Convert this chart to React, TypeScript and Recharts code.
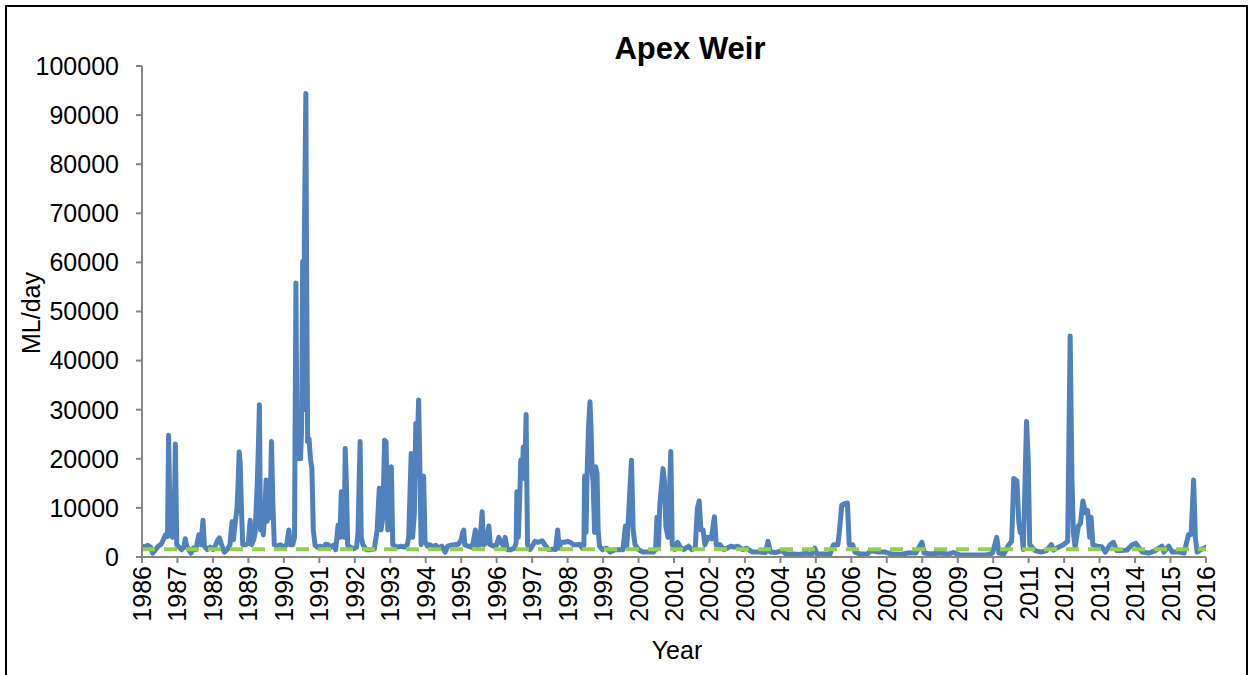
import React from "react";
import { LineChart, Line, XAxis, YAxis } from "recharts";

// daily flow at Apex Weir (decimal year, ML/day)
const flowYears = [
  1986.0, 1986.08, 1986.16, 1986.24, 1986.3, 1986.38, 1986.46, 1986.54, 1986.6, 1986.66,
  1986.72, 1986.75, 1986.78, 1986.82, 1986.86, 1986.91, 1986.94, 1986.98, 1987.05, 1987.12,
  1987.18, 1987.22, 1987.26, 1987.32, 1987.38, 1987.45, 1987.52, 1987.6, 1987.66, 1987.72,
  1987.76, 1987.84, 1987.92, 1988.0, 1988.08, 1988.14, 1988.18, 1988.24, 1988.32, 1988.4,
  1988.48, 1988.54, 1988.58, 1988.62, 1988.68, 1988.71, 1988.74, 1988.77, 1988.8, 1988.84,
  1988.92, 1989.0, 1989.05, 1989.09, 1989.15, 1989.19, 1989.25, 1989.28, 1989.31, 1989.34,
  1989.38, 1989.42, 1989.46, 1989.5, 1989.53, 1989.57, 1989.61, 1989.65, 1989.69, 1989.73,
  1989.8, 1989.9, 1990.0, 1990.08, 1990.14, 1990.18, 1990.25, 1990.3, 1990.34, 1990.37,
  1990.4, 1990.44, 1990.47, 1990.5, 1990.53, 1990.56, 1990.58, 1990.62, 1990.64, 1990.67,
  1990.71, 1990.75, 1990.79, 1990.83, 1990.88, 1990.95, 1991.03, 1991.1, 1991.18, 1991.25,
  1991.32, 1991.4, 1991.46, 1991.53, 1991.58, 1991.62, 1991.66, 1991.7, 1991.73, 1991.76,
  1991.8, 1991.88, 1991.96, 1992.05, 1992.09, 1992.15, 1992.18, 1992.23, 1992.32, 1992.45,
  1992.55, 1992.63, 1992.69, 1992.74, 1992.79, 1992.84, 1992.88, 1992.93, 1992.98, 1993.03,
  1993.07, 1993.18, 1993.3, 1993.4, 1993.48, 1993.52, 1993.59, 1993.63, 1993.68, 1993.72,
  1993.75, 1993.8, 1993.84, 1993.87, 1993.91, 1993.94, 1993.98, 1994.05, 1994.12, 1994.2,
  1994.28, 1994.36, 1994.45, 1994.55, 1994.62, 1994.72, 1994.82, 1994.92, 1995.0, 1995.04,
  1995.07, 1995.1, 1995.2, 1995.28, 1995.34, 1995.4, 1995.44, 1995.52, 1995.59, 1995.63,
  1995.7, 1995.78, 1995.82, 1995.92, 1996.0, 1996.06, 1996.12, 1996.2, 1996.24, 1996.3,
  1996.4, 1996.5, 1996.55, 1996.57, 1996.61, 1996.65, 1996.68, 1996.72, 1996.75, 1996.79,
  1996.83, 1996.87, 1996.94, 1997.0, 1997.08, 1997.16, 1997.24, 1997.28, 1997.36, 1997.46,
  1997.58, 1997.66, 1997.72, 1997.76, 1997.82, 1997.92, 1998.0, 1998.08, 1998.16, 1998.26,
  1998.34, 1998.42, 1998.46, 1998.48, 1998.52, 1998.55, 1998.59, 1998.63, 1998.66, 1998.69,
  1998.72, 1998.76, 1998.79, 1998.83, 1998.86, 1998.9, 1998.98, 1999.1, 1999.2, 1999.34,
  1999.45, 1999.56, 1999.63, 1999.67, 1999.72, 1999.8, 1999.85, 1999.9, 2000.0, 2000.12,
  2000.28, 2000.42, 2000.48, 2000.52, 2000.56, 2000.6, 2000.69, 2000.73, 2000.77, 2000.83,
  2000.91, 2000.95, 2001.02, 2001.1, 2001.18, 2001.27, 2001.41, 2001.5, 2001.6, 2001.66,
  2001.71, 2001.76, 2001.82, 2001.87, 2001.96, 2002.05, 2002.14, 2002.19, 2002.3, 2002.4,
  2002.5, 2002.6, 2002.7, 2002.8, 2002.94, 2003.05, 2003.2, 2003.4, 2003.58, 2003.65,
  2003.72, 2003.86, 2004.05, 2004.15, 2004.35, 2004.55, 2004.72, 2004.88, 2004.97, 2005.03,
  2005.2, 2005.4, 2005.5, 2005.62, 2005.66, 2005.73, 2005.82, 2005.89, 2005.94, 2006.04,
  2006.1, 2006.26, 2006.45, 2006.55, 2006.75, 2006.95, 2007.15, 2007.38, 2007.6, 2007.82,
  2007.99, 2008.05, 2008.25, 2008.5, 2008.72, 2008.88, 2009.08, 2009.3, 2009.55, 2009.8,
  2009.98, 2010.1, 2010.16, 2010.3, 2010.44, 2010.52, 2010.58, 2010.67, 2010.72, 2010.76,
  2010.81, 2010.85, 2010.94, 2010.99, 2011.03, 2011.18, 2011.35, 2011.5, 2011.64, 2011.7,
  2011.84, 2011.98, 2012.1, 2012.17, 2012.22, 2012.26, 2012.31, 2012.4, 2012.46, 2012.53,
  2012.6, 2012.66, 2012.72, 2012.76, 2012.81, 2012.92, 2013.06, 2013.16, 2013.3, 2013.39,
  2013.48, 2013.62, 2013.77, 2013.92, 2014.02, 2014.1, 2014.2, 2014.38, 2014.57, 2014.76,
  2014.81, 2014.95, 2015.05, 2015.24, 2015.38, 2015.51, 2015.58, 2015.65, 2015.7, 2015.75,
  2015.85, 2015.94, 2016.0,
];

const flowValues = [
  2200, 2000, 2400, 2000, 800, 1500, 2200, 2600, 3500, 4500,
  4200, 24800, 12000, 13300, 4000, 8000, 23000, 2500, 2000, 1500,
  2000, 3700, 2200, 1500, 800, 1800, 1500, 4500, 2500, 7500,
  2200, 1500, 2000, 1500, 2500, 3500, 3900, 2600, 1000, 1500,
  2500, 7200, 3500, 6500, 10000, 15000, 21400, 19000, 10600, 2500,
  2500, 2800, 7500, 2500, 3500, 5000, 15000, 22000, 31000, 5500,
  8000, 4500, 8500, 15700, 7300, 11000, 8000, 23500, 11000, 2500,
  2200, 2500, 2000, 2500, 5500, 2500, 2500, 4000, 55800, 20000,
  26000, 26500, 20000, 26000, 60200, 30000, 66300, 94400, 60000, 23500,
  24000, 20000, 18000, 5500, 2400, 2000, 2200, 1800, 2600, 2500,
  2000, 2400, 1500, 6500, 4000, 13300, 10600, 4000, 22100, 15500,
  2300, 2000, 1700, 2000, 5000, 23500, 4000, 2500, 1500, 1500,
  1600, 5500, 14000, 5500, 8000, 23800, 23500, 5500, 9000, 18400,
  2500, 2000, 2200, 2000, 2500, 4000, 21100, 4000, 9000, 27200,
  20000, 32000, 16000, 2500, 10000, 16500, 3200, 2200, 2500, 2000,
  2400, 1800, 2200, 1000, 2200, 2400, 2500, 2600, 3500, 5000,
  5500, 2500, 2200, 2000, 3000, 5500, 2200, 2500, 9200, 2500,
  2800, 6300, 2500, 2200, 2500, 4000, 3000, 2200, 4000, 1500,
  1500, 1800, 3000, 13300, 4000, 12000, 19700, 16000, 22400, 16000,
  29000, 2500, 1500, 2200, 3200, 3000, 3200, 3300, 2500, 1500,
  1600, 1500, 5500, 1800, 3000, 3000, 3200, 3000, 2500, 2500,
  2600, 1800, 2500, 16500, 5000, 17000, 26300, 31600, 26500, 17500,
  15000, 5000, 18400, 17000, 5500, 2200, 1500, 1800, 1000, 1500,
  1500, 1500, 6300, 2200, 8600, 19700, 5500, 2500, 1500, 1000,
  1000, 1000, 1500, 8100, 2000, 10600, 18000, 15500, 6300, 4000,
  21500, 2500, 1500, 3000, 2000, 1500, 2200, 1500, 1800, 9900,
  11400, 5500, 5500, 2500, 4000, 3700, 8200, 2500, 2500, 1500,
  1800, 2200, 2000, 2200, 1500, 1800, 1000, 1000, 900, 3200,
  1000, 900, 1300, 600, 600, 500, 800, 500, 1800, 600,
  600, 600, 2500, 2500, 5000, 10600, 10900, 11000, 2500, 2500,
  1000, 600, 600, 1300, 1000, 1000, 600, 500, 800, 800,
  3000, 800, 600, 800, 600, 900, 400, 400, 400, 400,
  800, 4000, 800, 600, 2500, 3200, 16000, 15500, 7300, 5000,
  4600, 1500, 27600, 19300, 2500, 1300, 1000, 1300, 2500, 1400,
  2000, 2500, 3200, 45000, 16000, 5000, 2000, 6300, 6800, 11400,
  9000, 9500, 4000, 8100, 2500, 2200, 2100, 1000, 2500, 3000,
  1300, 1300, 1400, 2500, 2800, 2000, 1000, 800, 1300, 2200,
  1000, 2200, 1000, 1000, 800, 4600, 4600, 15700, 4000, 1000,
  1500, 1800, 2000,
];

// green dashed reference flow
const thresholdYears = [1986, 2016];
const thresholdValues = [1600, 1600];

const yearTicks = [
  1986, 1987, 1988, 1989, 1990, 1991, 1992, 1993, 1994, 1995, 1996, 1997, 1998, 1999, 2000, 2001,
  2002, 2003, 2004, 2005, 2006, 2007, 2008, 2009, 2010, 2011, 2012, 2013, 2014, 2015, 2016,
];
const flowTicks = [0, 10000, 20000, 30000, 40000, 50000, 60000, 70000, 80000, 90000, 100000];

const FONT = "'Liberation Sans', Arial, sans-serif";
const AXIS_GREY = "#868686";

const flowData = flowYears.map((year, i) => ({ year, flow: flowValues[i] }));
const thresholdData = thresholdYears.map((year, i) => ({ year, flow: thresholdValues[i] }));

function YearTick({ x, y, payload }: any) {
  return (
    <g transform={`translate(${x},${y})`}>
      <text
        transform="rotate(-90)"
        x={0}
        y={9}
        textAnchor="end"
        fontSize={25}
        fontFamily={FONT}
        fill="#000"
      >
        {payload.value}
      </text>
    </g>
  );
}

export default function App() {
  return (
    <div
      style={{
        position: "fixed",
        left: 0,
        top: 0,
        width: 1249,
        height: 675,
        background: "#fff",
        overflow: "hidden",
      }}
    >
      <div
        style={{
          position: "absolute",
          left: 5,
          top: 5,
          width: 1243,
          height: 700,
          border: "2px solid #000",
          boxSizing: "border-box",
        }}
      />
      <div style={{ position: "absolute", left: 0, top: 0 }}>
        <LineChart width={1249} height={675} margin={{ top: 66, right: 43, bottom: 0, left: 0 }}>
          <XAxis
            type="number"
            dataKey="year"
            domain={[1986, 2016]}
            ticks={yearTicks}
            interval={0}
            height={118}
            tickSize={6}
            tickMargin={3}
            tick={<YearTick />}
            axisLine={{ stroke: AXIS_GREY, strokeWidth: 2 }}
            tickLine={{ stroke: AXIS_GREY, strokeWidth: 2 }}
            allowDataOverflow
          />
          <YAxis
            type="number"
            domain={[0, 100000]}
            ticks={flowTicks}
            interval={0}
            width={142}
            tickSize={6}
            tickMargin={17}
            tick={{ fontSize: 25, fontFamily: FONT, fill: "#000" }}
            axisLine={{ stroke: AXIS_GREY, strokeWidth: 2 }}
            tickLine={{ stroke: AXIS_GREY, strokeWidth: 2 }}
            allowDataOverflow
          />
          <Line
            data={flowData}
            dataKey="flow"
            type="linear"
            stroke="#4F81BD"
            strokeWidth={5}
            strokeLinejoin="round"
            strokeLinecap="round"
            dot={false}
            activeDot={false}
            isAnimationActive={false}
          />
          <Line
            data={thresholdData}
            dataKey="flow"
            type="linear"
            stroke="#92D050"
            strokeWidth={4}
            strokeDasharray="13 9"
            dot={false}
            activeDot={false}
            isAnimationActive={false}
          />
        </LineChart>
      </div>
      <svg
        width={1249}
        height={675}
        style={{ position: "absolute", left: 0, top: 0, pointerEvents: "none" }}
      >
        <text x={690} y={59} textAnchor="middle" fontSize={31} fontWeight="bold" fontFamily={FONT}>
          Apex Weir
        </text>
        <text
          transform="translate(40,313) rotate(-90)"
          textAnchor="middle"
          fontSize={25}
          fontFamily={FONT}
        >
          ML/day
        </text>
        <text x={677} y={659} textAnchor="middle" fontSize={25} fontFamily={FONT}>
          Year
        </text>
      </svg>
    </div>
  );
}
